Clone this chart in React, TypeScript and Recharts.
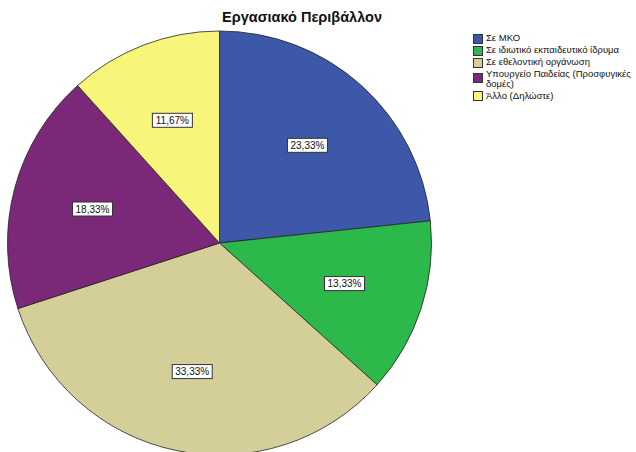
import React from 'react';
import { PieChart, Pie, Cell } from 'recharts';

const categories = [
  'Σε ΜΚΟ',
  'Σε ιδιωτικό εκπαιδευτικό ίδρυμα',
  'Σε εθελοντική οργάνωση',
  'Υπουργείο Παιδείας (Προσφυγικές δομές)',
  'Άλλο (Δηλώστε)',
];
const percents = [23.33, 13.33, 33.33, 18.33, 11.67];
const colors = ['#3e58a9', '#2db84b', '#d4cf99', '#7b2879', '#f8f57b'];

const data = categories.map((name, i) => ({ name, value: percents[i] }));

const RADIAN = Math.PI / 180;

const renderLabel = (props: any) => {
  const { cx, cy, midAngle, outerRadius, value } = props;
  const r = outerRadius * 0.62;
  const x = cx + r * Math.cos(-midAngle * RADIAN);
  const y = cy + r * Math.sin(-midAngle * RADIAN);
  const text = value.toFixed(2).replace('.', ',') + '%';
  const w = 40;
  const h = 14;
  return (
    <g>
      <rect x={x - w / 2} y={y - h / 2} width={w} height={h} fill="#fff" stroke="#333" strokeWidth={1} />
      <text x={x} y={y + 3.7} textAnchor="middle" fontSize={10} fill="#111" fontFamily="Liberation Sans, Arial, sans-serif">
        {text}
      </text>
    </g>
  );
};

const Legend = () => (
  <div style={{ position: 'absolute', left: 473, top: 33, width: 160, fontFamily: 'Liberation Sans, Arial, sans-serif', fontSize: 9.5, color: '#111', lineHeight: '10px' }}>
    {categories.map((c, i) => (
      <div key={c} style={{ display: 'flex', alignItems: 'flex-start', marginBottom: 1.5 }}>
        <span style={{ width: 8, height: 8, background: colors[i], border: '1px solid #333', marginRight: 3, marginTop: i === 3 ? 4 : 0.5, flexShrink: 0 }} />
        <span>{c}</span>
      </div>
    ))}
  </div>
);

export default function App() {
  return (
    <div style={{ position: 'absolute', left: 0, top: 0, width: 636, height: 452, background: '#fff', overflow: 'hidden' }}>
      <div style={{ position: 'absolute', left: 0, width: 604, top: 9, textAlign: 'center', fontFamily: 'Liberation Sans, Arial, sans-serif', fontWeight: 'bold', fontSize: 14.5, color: '#111' }}>
        Εργασιακό Περιβάλλον
      </div>
      <PieChart width={636} height={470} margin={{ top: 0, right: 0, bottom: 0, left: 0 }} style={{ position: 'absolute', left: 0, top: 0 }}>
        <Pie
          data={data}
          dataKey="value"
          nameKey="name"
          cx={219.5}
          cy={243}
          outerRadius={212}
          startAngle={90}
          endAngle={-270}
          stroke="#222"
          strokeWidth={0.8}
          label={renderLabel}
          labelLine={false}
          isAnimationActive={false}
        >
          {data.map((d, i) => (
            <Cell key={d.name} fill={colors[i]} />
          ))}
        </Pie>
      </PieChart>
      <Legend />
    </div>
  );
}
